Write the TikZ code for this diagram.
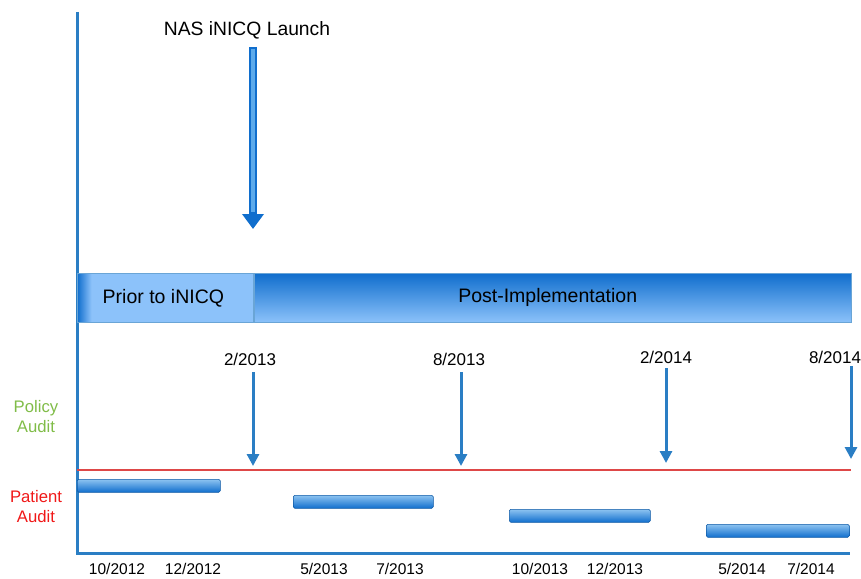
\documentclass[tikz,border=0pt]{standalone}
\usepackage{fontspec}
\setmainfont{Liberation Sans}
\usetikzlibrary{arrows.meta}
\usepackage{xcolor}
\definecolor{axisblue}{RGB}{42,126,196}
\definecolor{bardark}{RGB}{16,110,205}
\definecolor{barlight}{RGB}{140,194,250}
\definecolor{barmid}{RGB}{92,170,235}
\definecolor{auditred}{RGB}{222,72,72}
\definecolor{policygreen}{RGB}{128,188,72}
\definecolor{patientred}{RGB}{240,24,24}
\pgfdeclarehorizontalshading{priorshade}{100bp}{color(0bp)=(bardark);
  color(25bp)=(bardark); color(29bp)=(barlight); color(100bp)=(barlight)}

\begin{document}
\begin{tikzpicture}[x=1pt, y=-1pt]
  \tikzstyle{mytext}=[inner sep=0pt, text=black];
  \tikzstyle{phase}=[draw=axisblue!70, line width=0.8pt, inner sep=0pt,
    minimum height=49pt, anchor=north west,
    font=\fontsize{19.5}{22}\selectfont];
  \tikzstyle{auditbar}=[draw=bardark!80!black, line width=0.5pt,
    rounded corners=1.5pt, top color=barmid!70, bottom color=bardark,
    minimum height=13pt, inner sep=0pt, anchor=north west];
  \tikzstyle{datearrow}=[line width=3pt, draw=axisblue,
    -{Triangle[width=12pt, length=12pt]}];
  \tikzstyle{sidelabel}=[inner sep=0pt, align=center,
    font=\fontsize{16.7}{20}\selectfont];
  %
  \useasboundingbox (0,0) rectangle (861,578);
  %
  % axes
  \coordinate (origin) at (77,553);
  \draw[axisblue, line width=3pt] (77,12) -- (origin) -- (850,553);
  %
  % launch
  \node[mytext, font=\fontsize{19.3}{22}\selectfont] (launch) at (247,30)
  {NAS iNICQ Launch};
  \coordinate (launchtip) at (253,229);
  \draw[line width=8.5pt, draw=bardark, -{Triangle[width=21pt, length=15pt]}]
  (launchtip |- 0,47) -- (launchtip);
  \draw[line width=3.5pt, draw=barmid, line cap=butt]
  (launchtip |- 0,49) -- (253,212);
  %
  % phases
  \node[phase, shading=priorshade, minimum width=176pt] (prior) at (77,273)
  {\hspace*{-4pt}Prior to iNICQ};
  \node[phase, top color=bardark, bottom color=barlight,
  minimum width=597pt] (post) at (prior.north east)
  {\hspace*{-10pt}Post-Implementation};
  %
  % audit line
  \draw[auditred, line width=2pt] (77,470) -- (851,470);
  %
  % policy audits
  \node[mytext, font=\fontsize{17}{20}\selectfont] (pol1) at (250,359) {2/2013};
  \node[mytext, font=\fontsize{17}{20}\selectfont] (pol2) at (459,359) {8/2013};
  \node[mytext, font=\fontsize{17}{20}\selectfont] (pol3) at (666,357) {2/2014};
  \node[mytext, font=\fontsize{17}{20}\selectfont] (pol4) at (835,357) {8/2014};
  \coordinate (tip1) at (253,466);
  \coordinate (tip2) at (461,466);
  \coordinate (tip3) at (666,463);
  \coordinate (tip4) at (851,459);
  \draw[datearrow] (tip1 |- 0,372) -- (tip1);
  \draw[datearrow] (tip2 |- 0,372) -- (tip2);
  \draw[datearrow] (tip3 |- 0,368) -- (tip3);
  \draw[datearrow] (tip4 |- 0,366) -- (tip4);
  %
  % side labels
  \node[sidelabel, text=policygreen] (policy) at (36,417) {Policy\\Audit};
  \node[sidelabel, text=patientred] (patient) at (36,507) {Patient\\Audit};
  %
  % patient audits
  \node[auditbar, minimum width=143pt] (pat1) at (77,479) {};
  \node[auditbar, minimum width=140pt] (pat2) at (293,495) {};
  \node[auditbar, minimum width=141pt] (pat3) at (509,509) {};
  \node[auditbar, minimum width=143pt] (pat4) at (706,524) {};
  %
  % months
  \foreach \name/\x/\txt in {m1/117/10\slash2012, m2/193/12\slash2012,
    m3/324/5\slash2013, m4/400/7\slash2013, m5/540/10\slash2013,
    m6/615/12\slash2013, m7/742/5\slash2014, m8/811/7\slash2014}
  \node[mytext, font=\fontsize{15.5}{18}\selectfont] (\name) at (\x,569) {\txt};
\end{tikzpicture}
\end{document}
